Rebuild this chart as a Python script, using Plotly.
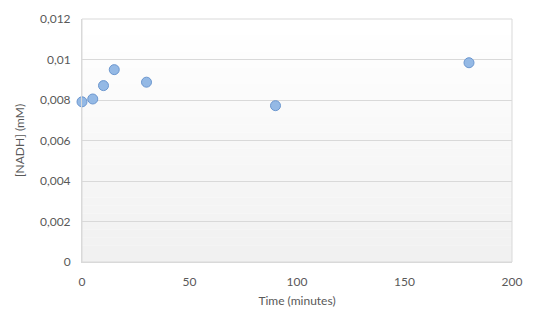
import plotly.graph_objects as go

time_min = [0, 5, 10, 15, 30, 90, 180]
nadh_mM = [0.00791, 0.00805, 0.00871, 0.0095, 0.00888, 0.00772, 0.00984]

y_tickvals = [0, 0.002, 0.004, 0.006, 0.008, 0.01, 0.012]
y_ticktext = ["0", "0,002", "0,004", "0,006", "0,008", "0,01", "0,012"]
x_tickvals = [0, 50, 100, 150, 200]
x_ticktext = ["0", "50", "100", "150", "200"]

FONT = "Lato, 'Open Sans', sans-serif"
TXT = "#595959"

fig = go.Figure()

# subtle vertical gradient in plot area (white at top -> light gray at bottom)
n = 30
shapes = []
for i in range(n):
    t = i / (n - 1)
    c = int(round(255 - 14 * t))
    shapes.append(dict(type="rect", xref="x domain", yref="y domain",
                       x0=0, x1=1, y0=1 - (i + 1) / n, y1=1 - i / n,
                       fillcolor=f"rgb({c},{c},{c})", line=dict(width=0),
                       layer="below"))
# chart border
shapes.append(dict(type="rect", xref="paper", yref="paper", x0=0, x1=1, y0=0, y1=1,
                   line=dict(color="#d9d9d9", width=1), fillcolor="rgba(0,0,0,0)",
                   layer="below"))

fig.add_trace(go.Scatter(
    x=time_min, y=nadh_mM, mode="markers", cliponaxis=False,
    marker=dict(size=10, color="#94B9E5", line=dict(color="#6C97CF", width=1)),
    showlegend=False,
))

fig.update_layout(
    width=542, height=328,
    margin=dict(l=82, r=30, t=19, b=66),
    paper_bgcolor="white", plot_bgcolor="white",
    font=dict(family=FONT, size=12, color=TXT),
    shapes=shapes,
    xaxis=dict(range=[0, 200], tickvals=x_tickvals, ticktext=x_ticktext,
               showgrid=False, zeroline=False, showline=True, linecolor="#d9d9d9",
               linewidth=1, ticks="", ticklabelstandoff=9,
               title=dict(text="Time (minutes)", font=dict(size=12, color=TXT), standoff=8)),
    yaxis=dict(range=[0, 0.012], tickvals=y_tickvals, ticktext=y_ticktext,
               showgrid=True, gridcolor="#d9d9d9", gridwidth=1, zeroline=False,
               showline=True, linecolor="#d9d9d9", linewidth=1, ticks="",
               ticklabelstandoff=8,
               title=dict(text="[NADH] (mM)", font=dict(size=12, color=TXT), standoff=12)),
)

fig.write_html("out.html")
